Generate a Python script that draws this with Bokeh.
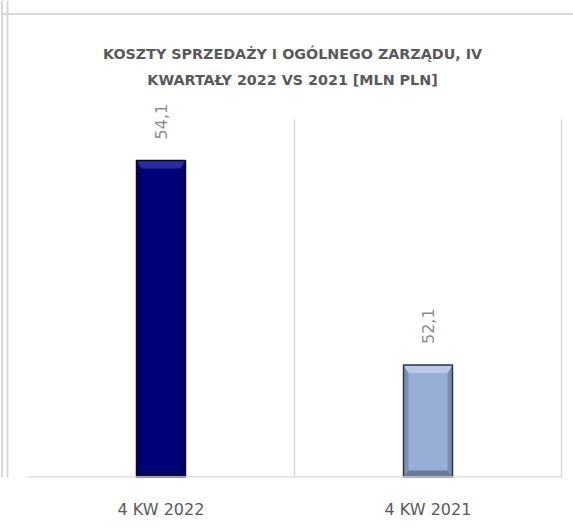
from bokeh.plotting import figure
from bokeh.models import ColumnDataSource, Range1d, Span, Label, FixedTicker
from bokeh.core.properties import value
from bokeh.embed import file_html
from bokeh.resources import INLINE
import math

categories = ["4 KW 2022", "4 KW 2021"]
values = [54.1, 52.1]
value_labels = ["54,1", "52,1"]
bar_colors = ["#000079", "#98aed6"]
edge_colors = ["#080830", "#2c3444"]
top_bevel_colors = ["#3a3aaa", "#c4d4ee"]
side_bevel_colors = ["#00004a", "#5f6f8a"]
bottom_bevel_colors = ["#0a0a50", "#56657f"]
title_line1 = "KOSZTY SPRZEDAŻY I OGÓLNEGO ZARZĄDU, IV"
title_line2 = "KWARTAŁY 2022 VS 2021 [MLN PLN]"
y_min, y_axis_max = 51, 54.5

# layout (pixels)
W, H = 573, 527
bottom_border = 50
frame_h = H - bottom_border
plot_left_px, plot_right_px = 27, 12
cat_px = (W - plot_left_px - plot_right_px) / len(categories)
plot_h_px = 358
px_per_unit = plot_h_px / (y_axis_max - y_min)
y_view_max = y_min + frame_h / px_per_unit

n = len(categories)
xs = [i + 0.5 for i in range(n)]
bar_w = 49 / cat_px
hw = bar_w / 2
bev_x = 5 / cat_px
bev_top = 8 / px_per_unit
bev_bot = 7 / px_per_unit

src = ColumnDataSource(dict(x=xs, cat=categories, val=values, lab=value_labels,
                            fill=bar_colors, edge=edge_colors))

p = figure(x_range=Range1d(-plot_left_px / cat_px, n + plot_right_px / cat_px),
           y_range=Range1d(y_min, y_view_max),
           width=W, height=H, output_backend="svg", toolbar_location=None,
           min_border_left=0, min_border_right=0, min_border_top=0,
           min_border_bottom=bottom_border)

# bars
p.vbar(x="x", top="val", bottom=y_min, width=bar_w, source=src,
       fill_color="fill", line_color=None)

# bevel: sides, top, bottom
side_xs, side_ys, side_c = [], [], []
top_xs, top_ys, top_c = [], [], []
bot_xs, bot_ys, bot_c = [], [], []
for i in range(n):
    cx, v = xs[i], values[i]
    l, r = cx - hw, cx + hw
    side_xs += [[l, l + bev_x, l + bev_x, l], [r, r - bev_x, r - bev_x, r]]
    side_ys += [[y_min, y_min + bev_bot, v - bev_top, v]] * 2
    side_c += [side_bevel_colors[i]] * 2
    top_xs.append([l, r, r - bev_x, l + bev_x])
    top_ys.append([v, v, v - bev_top, v - bev_top])
    top_c.append(top_bevel_colors[i])
    bot_xs.append([l, r, r - bev_x, l + bev_x])
    bot_ys.append([y_min, y_min, y_min + bev_bot, y_min + bev_bot])
    bot_c.append(bottom_bevel_colors[i])
p.patches(side_xs, side_ys, fill_color=side_c, fill_alpha=0.5, line_color=None)
p.patches(top_xs, top_ys, fill_color=top_c, fill_alpha=0.75, line_color=None)
p.patches(bot_xs, bot_ys, fill_color=bot_c, fill_alpha=0.7, line_color=None)
p.vbar(x="x", top="val", bottom=y_min, width=bar_w, source=src,
       fill_color=None, line_color="edge", line_width=1.5)

# value labels
p.text(x="x", y="val", text="lab", source=src, angle=math.pi / 2,
       text_align="left", text_baseline="middle", y_offset=-21,
       text_font=value("DejaVu Sans"), text_font_size="16px", text_color="#8c8c8c")

# plot area lines: separator, right edge, baseline
p.segment(x0=[1, n], y0=[y_min, y_min], x1=[1, n], y1=[y_axis_max, y_axis_max],
          line_color="#d9d9d9", line_width=1.5)
p.segment(x0=[0], y0=[y_min], x1=[n], y1=[y_min], line_color="#d9d9d9", line_width=2.5)

# chart border
for loc in [1.5, 7]:
    p.add_layout(Span(location=loc, location_units="screen", dimension="height",
                      line_color="#d9d9d9", line_width=2))
p.add_layout(Span(location=frame_h - 13.5, location_units="screen", dimension="width",
                  line_color="#d9d9d9", line_width=2))

# title
title_x = 292
for txt, ty in [(title_line1, frame_h - 53), (title_line2, frame_h - 79)]:
    p.add_layout(Label(x=title_x, y=ty, x_units="screen", y_units="screen", text=txt,
                       text_align="center", text_baseline="middle",
                       text_font="DejaVu Sans", text_font_size="14.3px",
                       text_font_style="bold", text_color="#595959"))

p.outline_line_color = None
p.xgrid.grid_line_color = None
p.ygrid.grid_line_color = None
p.yaxis.visible = False
p.xaxis.ticker = FixedTicker(ticks=xs)
p.xaxis.major_label_overrides = {x: c for x, c in zip(xs, categories)}
p.xaxis.axis_line_color = None
p.xaxis.major_tick_line_color = None
p.xaxis.minor_tick_line_color = None
p.xaxis.major_label_text_font = "DejaVu Sans"
p.xaxis.major_label_text_font_size = "16px"
p.xaxis.major_label_text_color = "#595959"
p.xaxis.major_label_standoff = 16
p.background_fill_color = "white"
p.border_fill_color = "white"

open("out.html", "w").write(file_html(p, INLINE))
